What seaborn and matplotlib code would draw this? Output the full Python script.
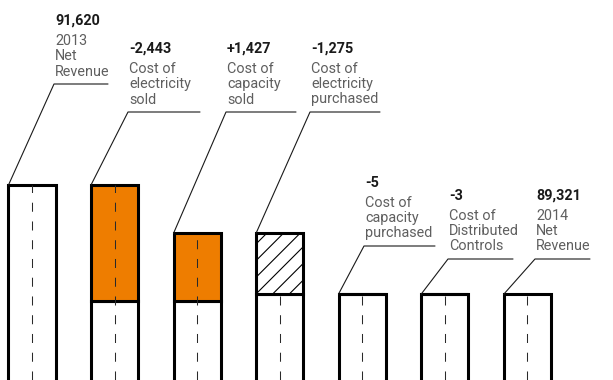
import numpy as np
import pandas as pd
import matplotlib
matplotlib.use("Agg")
import matplotlib.pyplot as plt
import seaborn as sns

# Net revenue bridge, 2013 -> 2014
steps = [
    "2013\nNet\nRevenue",
    "Cost of\nelectricity\nsold",
    "Cost of\ncapacity\nsold",
    "Cost of\nelectricity\npurchased",
    "Cost of\ncapacity\npurchased",
    "Cost of\nDistributed\nControls",
    "2014\nNet\nRevenue",
]
changes = [91620, -2443, 1427, -1275, -5, -3, 89321]
value_labels = ["91,620", "-2,443", "+1,427", "-1,275", "-5", "-3", "89,321"]
kinds = ["total", "sold", "sold", "purchased", "purchased", "purchased", "total"]

# running totals: white base column plus the step segment on top of it
base, seg_bottom, seg_height = [], [], []
running = 0
for v, k in zip(changes, kinds):
    if k == "total":
        running = v
        base.append(v)
        seg_bottom.append(v)
        seg_height.append(0)
    else:
        new = running + v
        lo, hi = min(running, new), max(running, new)
        base.append(lo)
        seg_bottom.append(lo)
        seg_height.append(hi - lo)
        running = new

df = pd.DataFrame({"step": steps, "base": base})

W, H = 613, 380
sns.set_theme(style="white")
plt.rcParams["font.family"] = ["Roboto", "DejaVu Sans"]
plt.rcParams["hatch.linewidth"] = 0.8
plt.rcParams["lines.scale_dashes"] = False

fig = plt.figure(figsize=(W / 100, H / 100), dpi=100)
ax = fig.add_axes([0, 0, 1, 1])

BAR_W = 0.57
EDGE = 2.2
ORANGE = "#ee7d00"

sns.barplot(data=df, x="step", y="base", order=steps, color="white",
            width=BAR_W, edgecolor="black", linewidth=EDGE,
            saturation=1, ax=ax, zorder=2)

xs = np.arange(len(steps))
for x, b, h, k in zip(xs, seg_bottom, seg_height, kinds):
    if h <= 0:
        continue
    if k == "sold":
        ax.bar(x, h, bottom=b, width=BAR_W, color=ORANGE,
               edgecolor="black", linewidth=EDGE, zorder=3)
    else:
        ax.bar(x, h, bottom=b, width=BAR_W, color="white", hatch="//",
               edgecolor="black", linewidth=EDGE, zorder=3)

ax.set_xlim(-0.388, 7.042)
ax.set_ylim(87525, 95505)
ax.axis("off")

# dashed centre line through the plain and orange parts of each column
for x, b, h, k in zip(xs, seg_bottom, seg_height, kinds):
    top = b + h if k in ("total", "sold") else b
    ax.plot([x, x], [ax.get_ylim()[0], top], color="#2a2a2a", lw=0.75,
            dashes=(6.5, 7), zorder=4, solid_capstyle="butt",
            dash_capstyle="butt")

# label layout (pixels): text left edge, underline height, underline end
label_x = [55, 129, 227, 311, 365, 449, 536]
rule_y = [84, 112, 112, 112, 246, 259, 259]
rule_end = [108, 200, 296, 380, 435, 513, 590]

to_data = ax.transData.inverted()


def px_to_data(px, py):
    return to_data.transform(fig.transFigure.transform((px / W, 1 - py / H)))


LINE = 15.3
FS = 10.4
for i, x in enumerate(xs):
    lx, ry, rx = label_x[i], rule_y[i], rule_end[i]
    corner = (x - BAR_W / 2, seg_bottom[i] + seg_height[i])
    p_top = px_to_data(lx - 1, ry)
    p_end = px_to_data(rx, ry)
    ax.plot([corner[0], p_top[0], p_end[0]], [corner[1], p_top[1], p_end[1]],
            color="#1a1a1a", lw=0.8, clip_on=False, zorder=5)

    lines = steps[i].split("\n")
    last_base = ry - 8.5
    for j, line in enumerate(lines):
        by = last_base - (len(lines) - 1 - j) * LINE
        fig.text(lx / W, 1 - by / H, line, ha="left", va="baseline",
                 fontsize=FS, color="#5f5f5f")
    vb = last_base - (len(lines) - 1) * LINE - 20
    fig.text(lx / W, 1 - vb / H, value_labels[i], ha="left", va="baseline",
             fontsize=FS, fontweight="bold", color="#1a1a1a")

fig.savefig("out.png", dpi=100)
